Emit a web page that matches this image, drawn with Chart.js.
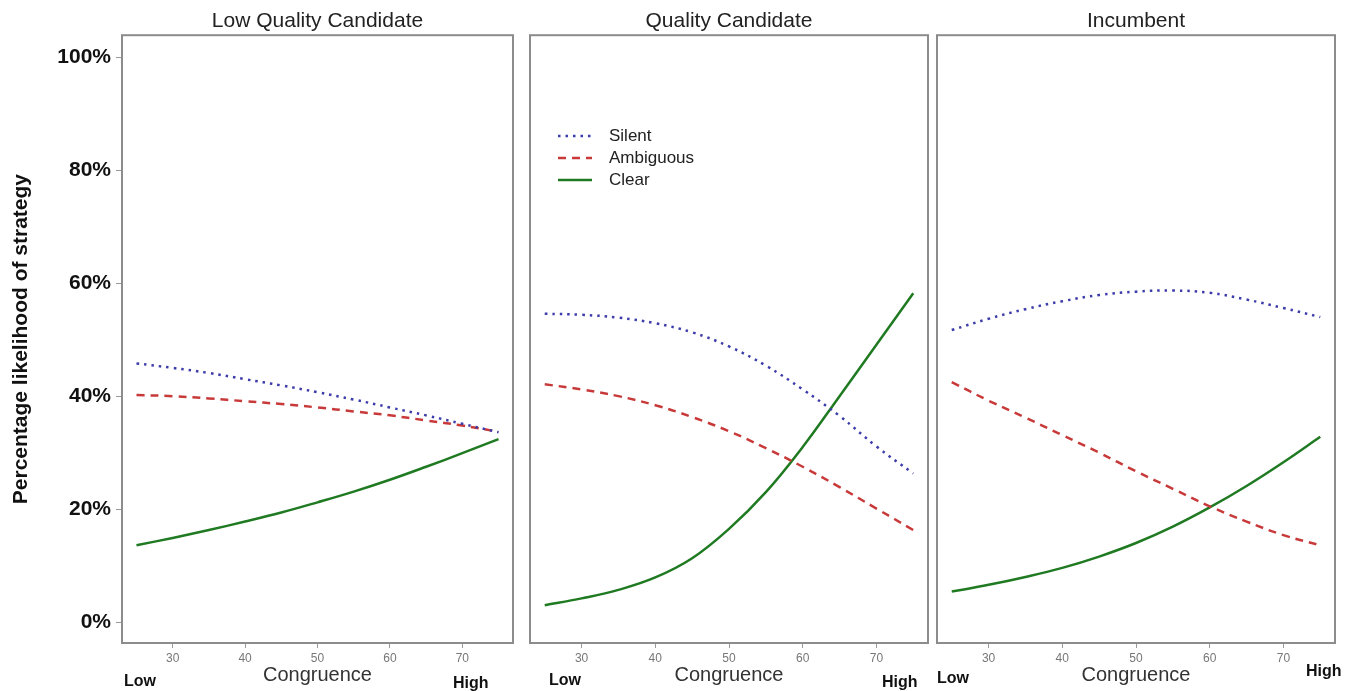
<!DOCTYPE html>
<html>
<head>
<meta charset="utf-8">
<title>Percentage likelihood of strategy by congruence</title>
<script src="https://cdn.jsdelivr.net/npm/chart.js@4.4.1/dist/chart.umd.min.js"></script>
<style>
  html, body { margin: 0; padding: 0; background: #fff; }
  body { width: 1353px; height: 691px; position: relative; overflow: hidden; }
  .panel { position: absolute; top: 0; height: 691px; }
</style>
</head>
<body>
<div class="panel" style="left:0"><canvas id="p1" width="516" height="691"></canvas></div>
<div class="panel" style="left:526px"><canvas id="p2" width="406" height="691"></canvas></div>
<div class="panel" style="left:933px"><canvas id="p3" width="420" height="691"></canvas></div>
<script>
// values (percent), congruence 25..75
const congruence = [25, 30, 35, 40, 45, 50, 55, 60, 65, 70, 75];
const xTicks = [30, 40, 50, 60, 70];
const yTicks = [0, 20, 40, 60, 80, 100];
const panelTitles = ['Low Quality Candidate', 'Quality Candidate', 'Incumbent'];
const seriesNames = ['Silent', 'Ambiguous', 'Clear'];

const lowQualitySilent    = [45.8, 45.0, 44.1, 43.0, 41.9, 40.7, 39.4, 38.0, 36.6, 35.1, 33.6];
const lowQualityAmbiguous = [40.2, 40.0, 39.6, 39.1, 38.6, 38.0, 37.3, 36.6, 35.7, 34.8, 33.7];
const lowQualityClear     = [13.6, 14.9, 16.3, 17.8, 19.4, 21.2, 23.1, 25.2, 27.5, 29.9, 32.4];

const qualitySilent    = [54.6, 54.4, 53.9, 52.9, 51.3, 48.8, 45.4, 41.2, 36.5, 31.1, 26.3];
const qualityAmbiguous = [42.1, 41.2, 40.0, 38.4, 36.3, 33.8, 30.8, 27.5, 23.9, 20.1, 16.3];
const qualityClear     = [3.0, 4.2, 5.7, 7.9, 11.3, 16.5, 23.0, 31.0, 40.0, 49.1, 58.2];

const incumbentSilent    = [51.7, 53.7, 55.4, 56.8, 57.9, 58.5, 58.7, 58.3, 57.1, 55.6, 54.0];
const incumbentAmbiguous = [42.5, 39.2, 36.2, 33.1, 30.0, 26.7, 23.6, 20.5, 17.8, 15.4, 13.6];
const incumbentClear     = [5.4, 6.6, 8.0, 9.6, 11.6, 14.0, 16.9, 20.3, 24.1, 28.3, 32.8];

const FONT = "'Liberation Sans', Arial, Helvetica, sans-serif";
const lineColors = ['#3c3caa', '#c83a3a', '#1f7a22'];
const lineDashes = [[2.5, 5], [8, 6], []];

// gray frame around each plot area
const boxPlugin = {
  id: 'box',
  afterDraw(chart) {
    const { ctx, chartArea: a } = chart;
    ctx.save();
    ctx.strokeStyle = '#8c8c8c';
    ctx.lineWidth = 2;
    ctx.strokeRect(a.left, a.top, a.right - a.left, a.bottom - a.top);
    ctx.restore();
  }
};

// "Low" / "High" under the x axis, slightly different spot in each panel
function lowHighPlugin(low, high) {
  return {
    id: 'lowHigh',
    afterDraw(chart) {
      const { ctx, chartArea: a } = chart;
      ctx.save();
      ctx.font = 'bold 16px ' + FONT;
      ctx.fillStyle = '#111';
      ctx.textBaseline = 'middle';
      ctx.textAlign = 'left';
      ctx.fillText('Low', a.left + low[0], low[1]);
      ctx.fillText('High', a.right + high[0], high[1]);
      ctx.restore();
    }
  };
}

// legend drawn inside the middle panel
const legendPlugin = {
  id: 'innerLegend',
  afterDraw(chart) {
    const { ctx, chartArea: a } = chart;
    ctx.save();
    chart.data.datasets.forEach((ds, i) => {
      const y = 136 + i * 22;
      ctx.strokeStyle = ds.borderColor;
      ctx.lineWidth = 2.5;
      ctx.setLineDash(ds.borderDash);
      ctx.beginPath();
      ctx.moveTo(a.left + 28, y);
      ctx.lineTo(a.left + 62, y);
      ctx.stroke();
      ctx.setLineDash([]);
      ctx.font = '17px ' + FONT;
      ctx.fillStyle = '#222';
      ctx.textBaseline = 'middle';
      ctx.fillText(ds.label, a.left + 79, y);
    });
    ctx.restore();
  }
};

function makePanel(id, title, series, opts) {
  const datasets = series.map((vals, i) => ({
    label: seriesNames[i],
    data: congruence.map((c, j) => ({ x: c, y: vals[j] })),
    borderColor: lineColors[i],
    borderDash: lineDashes[i],
    borderWidth: 2.5,
    pointRadius: 0,
    tension: 0.4,
    fill: false
  }));

  const plugins = [boxPlugin, lowHighPlugin(opts.low, opts.high)];
  if (opts.legend) plugins.push(legendPlugin);

  return new Chart(document.getElementById(id), {
    type: 'line',
    data: { datasets },
    plugins,
    options: {
      responsive: false,
      animation: false,
      layout: { padding: { left: opts.padLeft, right: opts.padRight, top: 0, bottom: 0 } },
      plugins: {
        legend: { display: false },
        tooltip: { enabled: false },
        title: {
          display: true,
          text: title,
          fullSize: false,
          color: '#222',
          font: { family: FONT, size: 21, weight: 'normal' },
          padding: { top: 9, bottom: 1 }
        }
      },
      scales: {
        x: {
          type: 'linear',
          min: 23,
          max: 77,
          afterBuildTicks: s => { s.ticks = xTicks.map(v => ({ value: v })); },
          afterFit: s => { s.height = 48; },
          grid: { drawOnChartArea: false, tickLength: 5, color: '#999' },
          border: { display: false },
          ticks: { autoSkip: false, maxRotation: 0, color: '#777', padding: 3, font: { family: FONT, size: 12 } },
          title: {
            display: true,
            text: 'Congruence',
            color: '#333',
            font: { family: FONT, size: 20 },
            padding: { top: 0, bottom: 4 }
          }
        },
        y: {
          display: opts.yAxis,
          min: -3.7,
          max: 103.9,
          afterBuildTicks: s => { s.ticks = yTicks.map(v => ({ value: v })); },
          afterFit: s => { s.width = opts.yAxis ? 122 : 0; },
          grid: { drawOnChartArea: false, tickLength: 6, color: '#999' },
          border: { display: false },
          ticks: {
            callback: v => v + '%',
            color: '#111',
            padding: 5,
            font: { family: FONT, size: 21, weight: 'bold' }
          },
          title: {
            display: true,
            text: 'Percentage likelihood of strategy',
            color: '#111',
            font: { family: FONT, size: 21, weight: 'bold' },
            padding: { top: 9, bottom: 0 }
          }
        }
      }
    }
  });
}

makePanel('p1', panelTitles[0], [lowQualitySilent, lowQualityAmbiguous, lowQualityClear],
  { yAxis: true, padLeft: 0, padRight: 3, low: [2, 682], high: [-60, 684] });
makePanel('p2', panelTitles[1], [qualitySilent, qualityAmbiguous, qualityClear],
  { yAxis: false, padLeft: 4, padRight: 4, legend: true, low: [19, 681], high: [-46, 683] });
makePanel('p3', panelTitles[2], [incumbentSilent, incumbentAmbiguous, incumbentClear],
  { yAxis: false, padLeft: 4, padRight: 18, low: [0, 679], high: [-29, 672] });
</script>
</body>
</html>
